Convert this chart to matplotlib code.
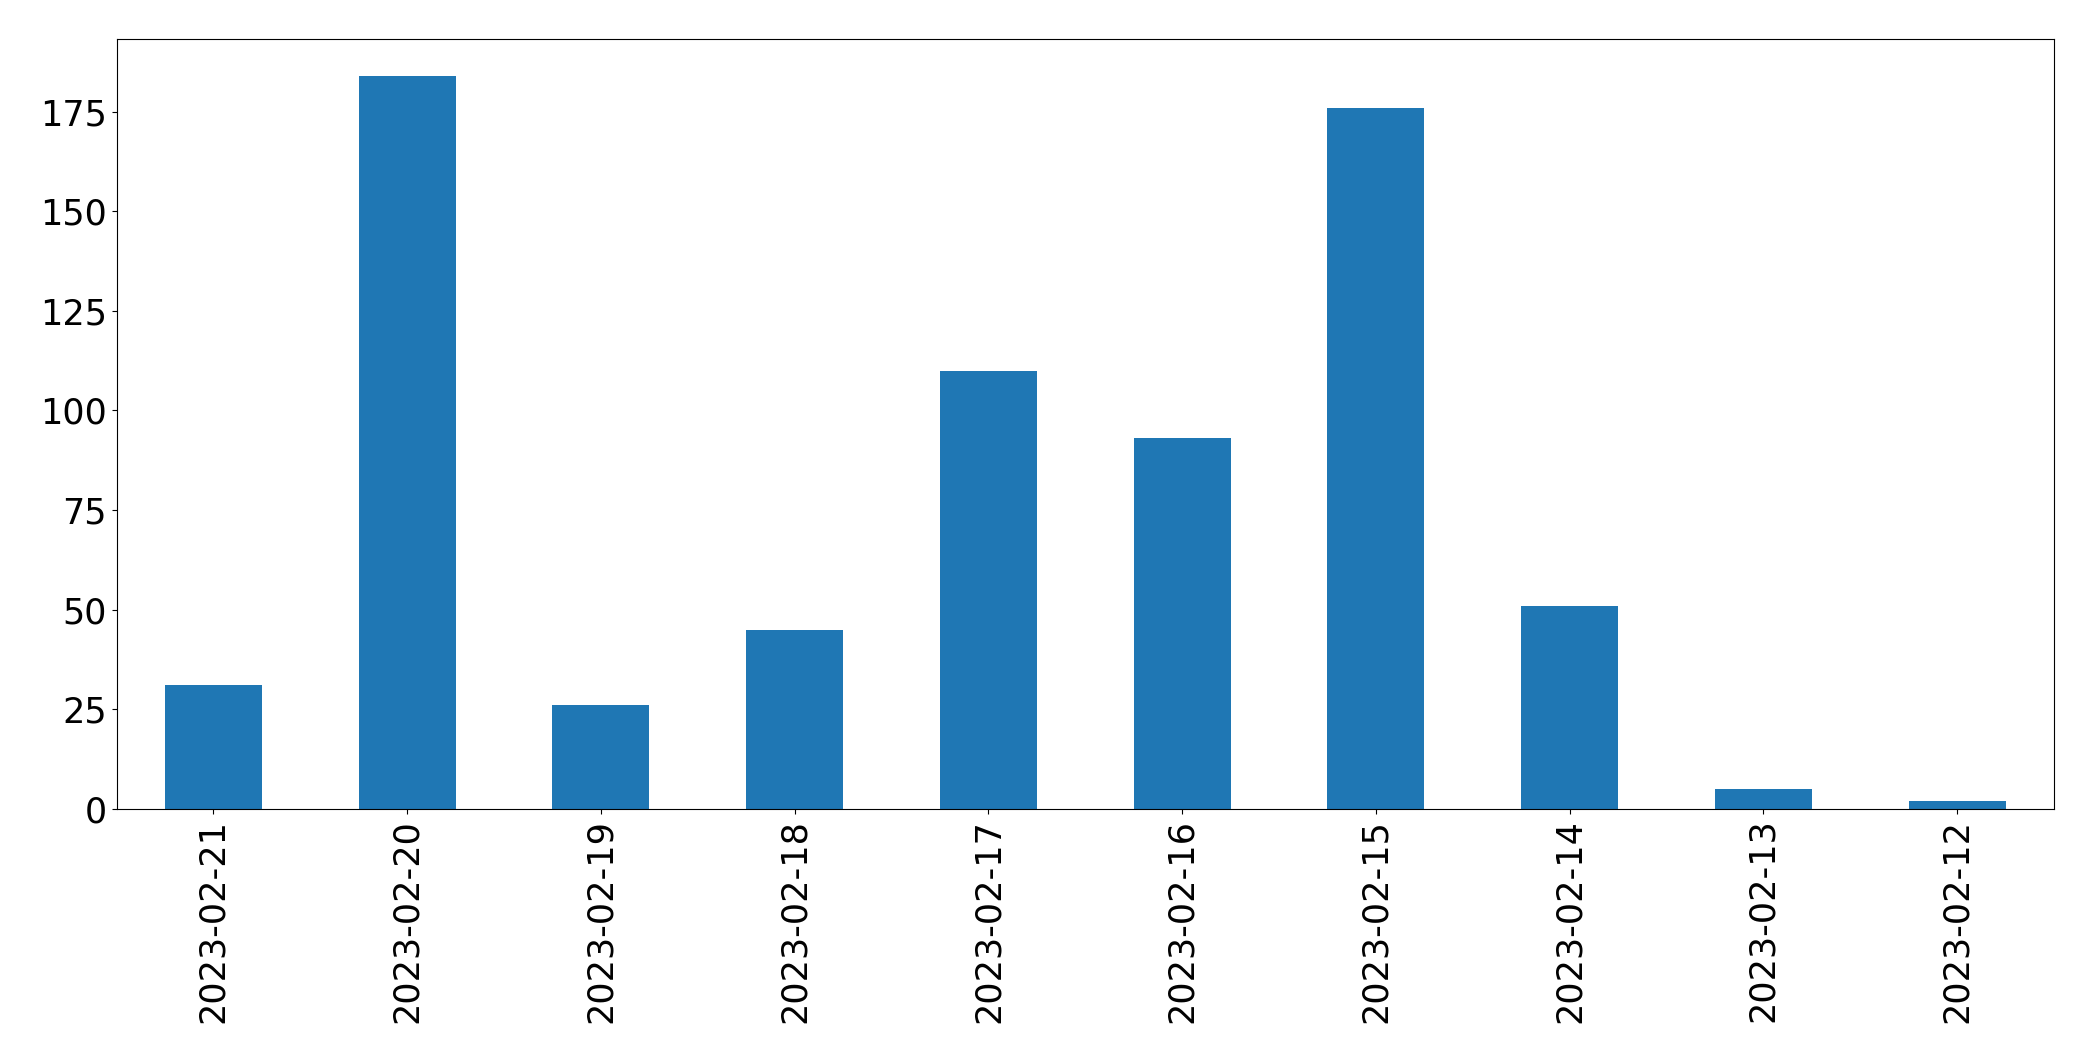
import matplotlib
matplotlib.use("Agg")
import matplotlib.pyplot as plt

dates = [
    "2023-02-21", "2023-02-20", "2023-02-19", "2023-02-18", "2023-02-17",
    "2023-02-16", "2023-02-15", "2023-02-14", "2023-02-13", "2023-02-12",
]
counts = [31, 184, 26, 45, 110, 93, 176, 51, 5, 2]

W, H, DPI = 2093, 1061, 100
fig = plt.figure(figsize=(W / DPI, H / DPI), dpi=DPI)
left, right, top, bottom = 116.5, 2054, 39, 809
ax = fig.add_axes([left / W, 1 - bottom / H, (right - left) / W, (bottom - top) / H])

x = range(len(dates))
ax.bar(x, counts, width=0.5, color="#1f77b4")
ax.set_xlim(-0.5, len(dates) - 0.5)
ax.set_xticks(list(x))
ax.set_xticklabels(dates, rotation=90)
ax.tick_params(labelsize=25.2)

fig.savefig("out.png", dpi=DPI)
